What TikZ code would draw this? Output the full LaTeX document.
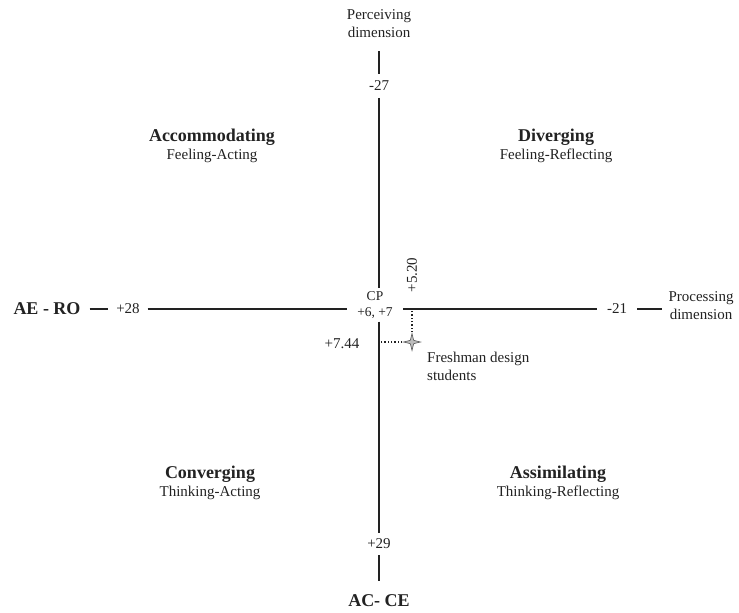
\documentclass[tikz,border=0pt]{standalone}
\usepackage{fontspec}
\setmainfont{Liberation Serif}
\usepackage{tikz}
\usetikzlibrary{positioning,shapes.geometric,calc}
\definecolor{ink}{HTML}{222222}
\tikzset{
  axis/.style={draw=ink, line width=2.9pt},
  guide/.style={draw=ink, line width=1.3pt, dotted},
  num/.style={font=\fontsize{15}{18}\selectfont, inner sep=0pt, outer sep=8pt, text=ink},
  pole/.style={font=\fontsize{18}{21}\selectfont\bfseries, inner sep=0pt, outer sep=9pt, text=ink},
  dimlbl/.style={font=\fontsize{15}{18}\selectfont, align=center, inner sep=0pt, outer sep=7pt, text=ink},
  quad/.style={font=\fontsize{15}{18}\selectfont, align=center, inner sep=0pt, text=ink},
  mark pt/.style={star, star points=4, star point ratio=3.6, minimum size=17pt, inner sep=0pt,
              shape border rotate=90, draw=ink!75, fill=ink!30, line width=0.6pt}
}
\newcommand{\quadname}[1]{{\fontsize{18}{18}\selectfont\bfseries #1}}

\begin{document}
\begin{tikzpicture}[x=1pt, y=-1pt]
 \useasboundingbox (0,0) rectangle (739,613);
 % vertical axis
 \node[dimlbl, outer sep=13pt] (percv) at (379,24) {Perceiving\\dimension};
 \node[num, outer sep=7pt] (m27) at (379,86) {-27};
 \node[num, outer sep=6pt] (p29) at (379,544) {+29};
 \node[pole, outer sep=14pt] (acce) at (379,601) {AC- CE};
 % horizontal axis
 \node[pole] (aero) at (47,309) {AE - RO};
 \node[num] (p28) at (128,309) {+28};
 \node[num, outer sep=10pt] (m21) at (617,309) {-21};
 \node[dimlbl] (proc) at (701,306) {Processing\\dimension};
 % crossing point
 \node[font=\fontsize{13.5}{16}\selectfont, align=center, inner sep=0pt, outer sep=3pt,
       minimum width=50pt, text=ink] (cp) at (375,305) {CP\\+6, +7};
 \draw[axis] (percv) -- (m27); \draw[axis] (m27) -- (m27 |- cp.north);
 \draw[axis] (p29 |- cp.south) -- (p29); \draw[axis] (p29) -- (acce);
 \draw[axis] (aero) -- (p28); \draw[axis] (p28) -- (cp.west |- p28);
 \draw[axis] (cp.east |- m21) -- (m21); \draw[axis] (m21) -- (proc.west |- m21);
 % freshman mean
 \node[mark pt] (fresh) at (412,342) {};
 \draw[guide] (fresh.north) -- (fresh |- m21);
 \draw[guide] (fresh.west) -- (m27 |- fresh);
 \node[num, rotate=90, outer sep=0pt] (v520) at (412,275) {+5.20};
 \node[num, outer sep=0pt] (v744) at (342,344) {+7.44};
 \node[quad, align=left, anchor=north west] (flbl) at (427,352) {Freshman design\\students};
 % quadrants
 \node[quad] (acc) at (212,146) {\quadname{Accommodating}\\Feeling-Acting};
 \node[quad] (div) at (556,146) {\quadname{Diverging}\\Feeling-Reflecting};
 \node[quad] (con) at (210,483) {\quadname{Converging}\\Thinking-Acting};
 \node[quad] (ass) at (558,483) {\quadname{Assimilating}\\Thinking-Reflecting};
\end{tikzpicture}
\end{document}
